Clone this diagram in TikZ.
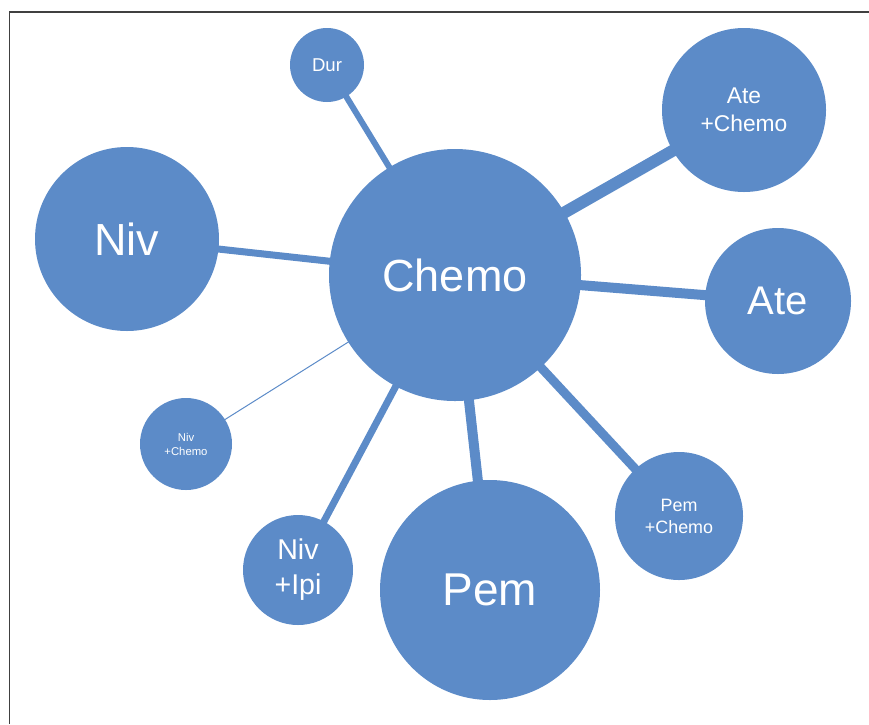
\documentclass[tikz,border=0pt]{standalone}
\usepackage{fontspec}
\setmainfont{Liberation Sans}
\usetikzlibrary{backgrounds}
\definecolor{bubble}{RGB}{92,139,200}
\begin{document}
\begin{tikzpicture}[x=1pt,y=-1pt,
    bub/.style={circle,fill=bubble,text=white,inner sep=0pt,align=center},
    spoke/.style={draw=bubble}]
    \useasboundingbox (0,0) rectangle (869,724);
    % frame (only top and left edge show)
    \draw [line width=1.5pt,draw=black!75] (869,12)--(9.5,12)--(9.5,724);
    \node [bub,minimum size=252pt,font=\fontsize{45}{54}\selectfont] (chemo) at (455,275) {Chemo};
    \node [bub,minimum size=184pt,font=\fontsize{45}{54}\selectfont] (niv) at (127,239) {Niv};
    \node [bub,minimum size=74pt,font=\fontsize{18.6}{22}\selectfont] (dur) at (327,65) {Dur};
    \node [bub,minimum size=164pt,font=\fontsize{22.8}{28}\selectfont] (atechemo) at (744,110) {Ate\\+Chemo};
    \node [bub,minimum size=146pt,font=\fontsize{40}{48}\selectfont] (ate) at (778,301) {Ate};
    \node [bub,minimum size=92pt,font=\fontsize{11.3}{14}\selectfont] (nivchemo) at (186,444) {Niv\\+Chemo};
    \node [bub,minimum size=110pt,font=\fontsize{28.6}{35}\selectfont] (nivipi) at (298,570) {Niv\\+Ipi};
    \node [bub,minimum size=220pt,font=\fontsize{46}{55}\selectfont] (pem) at (490,590) {Pem};
    \node [bub,minimum size=128pt,font=\fontsize{17.9}{22}\selectfont] (pemchemo) at (679,516) {Pem\\+Chemo};
    \begin{pgfonlayer}{background}
      \draw [spoke,line width=12pt] (chemo.center)--(atechemo.center);
      \draw [spoke,line width=10pt] (chemo.center)--(ate.center);
      \draw [spoke,line width=10pt] (chemo.center)--(pem.center);
      \draw [spoke,line width=9pt] (chemo.center)--(pemchemo.center);
      \draw [spoke,line width=7pt] (chemo.center)--(nivipi.center);
      \draw [spoke,line width=7pt] (chemo.center)--(niv.center);
      \draw [spoke,line width=6pt] (chemo.center)--(dur.center);
      \draw [spoke,line width=1pt] (chemo.center)--(nivchemo.center);
    \end{pgfonlayer}
\end{tikzpicture}
\end{document}
